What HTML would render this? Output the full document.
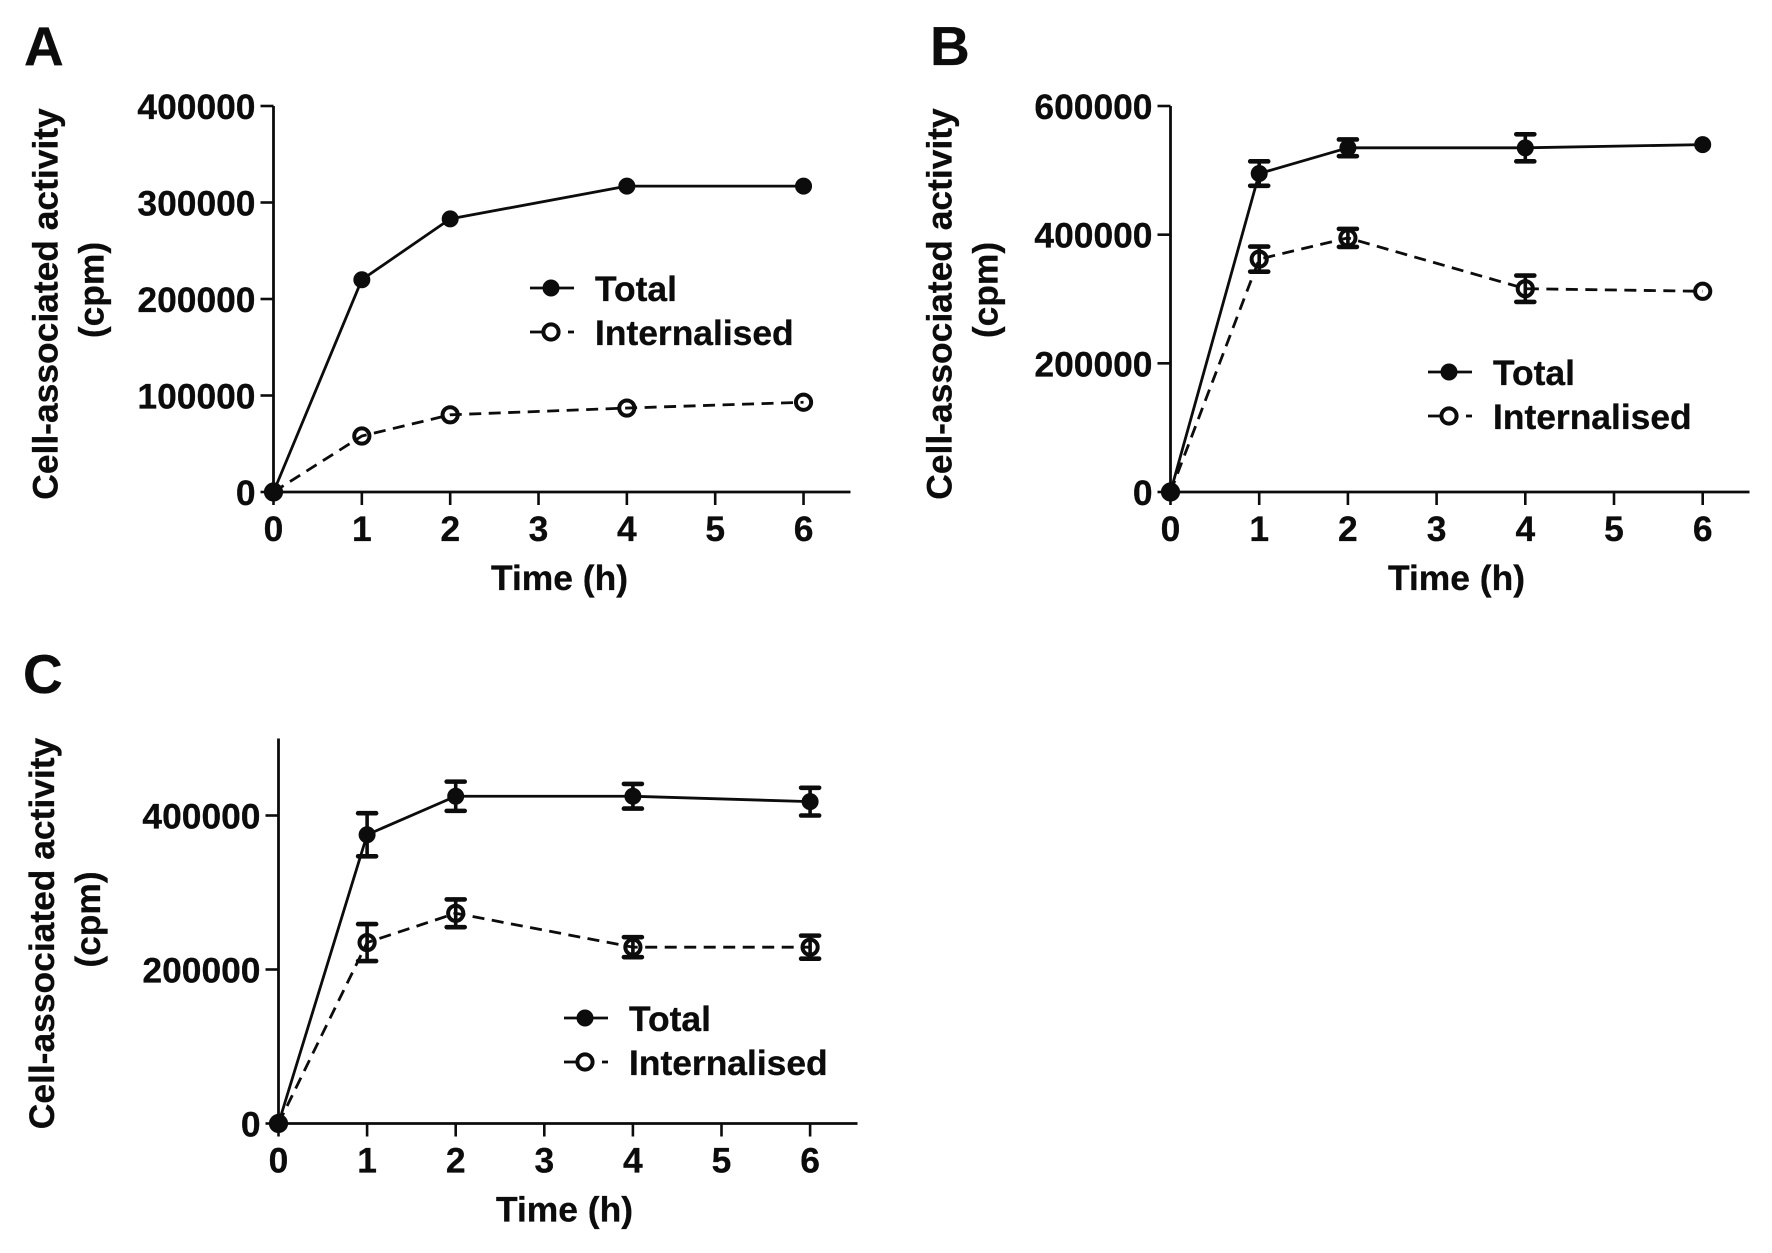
<!DOCTYPE html>
<html lang="en">
<head>
<meta charset="utf-8">
<title>Cell-associated activity over time</title>
<style>
html,body{margin:0;padding:0;background:#fff;width:1772px;height:1253px;overflow:hidden}
svg{display:block}
text{font-family:"Liberation Sans",Arial,sans-serif;font-weight:700;fill:#0c0c0c;stroke:#0c0c0c;stroke-width:0.3px}
</style>
</head>
<body>
<svg id="figure" width="1772" height="1253" viewBox="0 0 1772 1253" xmlns="http://www.w3.org/2000/svg">
  <rect width="1772" height="1253" fill="#fff"/>
  <text x="24" y="65" font-size="55">A</text>
  <text x="930" y="65" font-size="55">B</text>
  <text x="23" y="693" font-size="55">C</text>
  <g id="panel-a"></g>
  <g id="panel-b"></g>
  <g id="panel-c"></g>
</svg>
<script>
const timePoints = [0, 1, 2, 4, 6];
const xTickLabels = [0, 1, 2, 3, 4, 5, 6];
const seriesNames = ['Total', 'Internalised'];

const aYTicks = [0, 100000, 200000, 300000, 400000];
const aTotal = [0, 220000, 283000, 317000, 317000];
const aInternalised = [0, 58000, 80000, 87000, 93000];
const aTotalErr = [0, 0, 0, 0, 0];
const aInternalisedErr = [0, 0, 0, 0, 0];

const bYTicks = [0, 200000, 400000, 600000];
const bTotal = [0, 495000, 535000, 535000, 540000];
const bInternalised = [0, 362000, 395000, 316000, 312000];
const bTotalErr = [0, 19000, 13000, 21000, 0];
const bInternalisedErr = [0, 19500, 14000, 20500, 0];

const cYTicks = [0, 200000, 400000];
const cTotal = [0, 375000, 425000, 425000, 418000];
const cInternalised = [0, 235000, 273000, 229000, 229000];
const cTotalErr = [0, 28000, 19000, 16000, 18000];
const cInternalisedErr = [0, 24000, 18000, 13000, 15000];

const NS = 'http://www.w3.org/2000/svg';
const INK = '#0c0c0c';
const FONT = 35.4;

function mk(tag, parent) {
  const el = document.createElementNS(NS, tag);
  parent.appendChild(el);
  return el;
}
function line(parent, x1, y1, x2, y2, w, dash) {
  const el = mk('line', parent);
  el.setAttribute('x1', x1);
  el.setAttribute('y1', y1);
  el.setAttribute('x2', x2);
  el.setAttribute('y2', y2);
  el.setAttribute('stroke', INK);
  el.setAttribute('stroke-width', w);
  if (dash) el.setAttribute('stroke-dasharray', dash);
  return el;
}
function label(parent, x, y, str, anchor) {
  const el = mk('text', parent);
  el.setAttribute('x', x);
  el.setAttribute('y', y);
  el.setAttribute('font-size', FONT);
  el.setAttribute('text-anchor', anchor);
  el.setAttribute('dominant-baseline', 'central');
  el.textContent = str;
  return el;
}
function dot(parent, cx, cy, open) {
  const el = mk('circle', parent);
  el.setAttribute('cx', cx);
  el.setAttribute('cy', cy);
  el.setAttribute('r', open ? 7.6 : 8);
  el.setAttribute('fill', open ? 'none' : INK);
  el.setAttribute('stroke', INK);
  el.setAttribute('stroke-width', open ? 4 : 1);
  return el;
}

function drawPanel(cfg) {
  const g = document.getElementById(cfg.id);
  const xScale = v => cfg.x0 + v * cfg.xUnit;
  const yScale = v => cfg.y0 - (v / cfg.yMax) * (cfg.y0 - cfg.yTop);

  const yAxis = line(g, cfg.x0, cfg.y0 + 1, cfg.x0, cfg.yTop, 2.8);
  
  
  const xAxis = line(g, cfg.x0, cfg.y0, cfg.x0 + cfg.axisLength, cfg.y0, 2.8);
  
  

  cfg.yTicks.forEach(v => {
    const y = yScale(v);
    const t = line(g, cfg.x0 - 13, y, cfg.x0, y, 2.6);
    
    
    const l = label(g, cfg.x0 - 18, y + 1, String(v), 'end');
    
    
  });
  xTickLabels.forEach(v => {
    const x = xScale(v);
    const t = line(g, x, cfg.y0, x, cfg.y0 + 13, 2.6);
    
    
    const l = label(g, x, cfg.y0 + 37, String(v), 'middle');
    
    
  });

  const xTitle = label(g, cfg.x0 + 286, cfg.y0 + 86, 'Time (h)', 'middle');
  
  

  const yTitle = label(g, 0, 0, 'Cell-associated activity', 'middle');
  yTitle.setAttribute('transform', 'translate(' + cfg.titleX + ',' + cfg.titleY + ') rotate(-90)');
  
  
  const yUnit = label(g, 0, 0, '(cpm)', 'middle');
  yUnit.setAttribute('transform', 'translate(' + (cfg.titleX + 46) + ',' + (cfg.titleY - 14) + ') rotate(-90)');
  
  

  const drawSeries = (vals, errs, open, name) => {
    const s = mk('g', g);
    
    
    const pts = vals.map((v, i) => xScale(timePoints[i]) + ',' + yScale(v)).join(' ');
    const pl = mk('polyline', s);
    pl.setAttribute('points', pts);
    pl.setAttribute('fill', 'none');
    pl.setAttribute('stroke', INK);
    pl.setAttribute('stroke-width', 2.8);
    pl.setAttribute('stroke-linejoin', 'round');
    if (open) pl.setAttribute('stroke-dasharray', '12 7.5');
    
    
    vals.forEach((v, i) => {
      const x = xScale(timePoints[i]);
      const y = yScale(v);
      if (errs[i] > 0) {
        const hi = yScale(v + errs[i]);
        const lo = yScale(v - errs[i]);
        const stem = line(s, x, hi, x, lo, 3.6);
        
        
        const capT = line(s, x - 9, hi, x + 9, hi, 4.6);
        capT.setAttribute('stroke-linecap', 'round');
        
        
        const capB = line(s, x - 9, lo, x + 9, lo, 4.6);
        capB.setAttribute('stroke-linecap', 'round');
        
        
      }
      const m = dot(s, x, y, open);
      
      
    });
  };
  drawSeries(cfg.internalised, cfg.internalisedErr, true, 'internalised-series');
  drawSeries(cfg.total, cfg.totalErr, false, 'total-series');

  const leg = mk('g', g);
  
  
  const lx = cfg.legX;
  const ly1 = cfg.legY;
  const ly2 = cfg.legY + 44;
  const e1 = mk('g', leg);
  
  
  line(e1, lx, ly1, lx + 44, ly1, 2.8);
  dot(e1, lx + 21, ly1, false);
  label(e1, lx + 65, ly1 + 1, seriesNames[0], 'start');
  const e2 = mk('g', leg);
  
  
  line(e2, lx, ly2, lx + 14, ly2, 2.8);
  line(e2, lx + 38, ly2, lx + 44, ly2, 2.8);
  dot(e2, lx + 21, ly2, true);
  label(e2, lx + 65, ly2 + 1, seriesNames[1], 'start');
}

drawPanel({ id: 'panel-a', xUnit: 88.34, axisLength: 577, x0: 273.5, y0: 492, yTop: 106, yMax: 400000, yTicks: aYTicks,
  total: aTotal, internalised: aInternalised, totalErr: aTotalErr, internalisedErr: aInternalisedErr,
  titleX: 45.5, titleY: 304, legX: 530, legY: 288 });
drawPanel({ id: 'panel-b', xUnit: 88.7, axisLength: 579, x0: 1170.5, y0: 492, yTop: 106, yMax: 600000, yTicks: bYTicks,
  total: bTotal, internalised: bInternalised, totalErr: bTotalErr, internalisedErr: bInternalisedErr,
  titleX: 939.5, titleY: 304, legX: 1428, legY: 372 });
drawPanel({ id: 'panel-c', xUnit: 88.6, axisLength: 579, x0: 278.5, y0: 1123.5, yTop: 738.5, yMax: 500000, yTicks: cYTicks,
  total: cTotal, internalised: cInternalised, totalErr: cTotalErr, internalisedErr: cInternalisedErr,
  titleX: 42, titleY: 933.5, legX: 564, legY: 1018 });
</script>
</body>
</html>
